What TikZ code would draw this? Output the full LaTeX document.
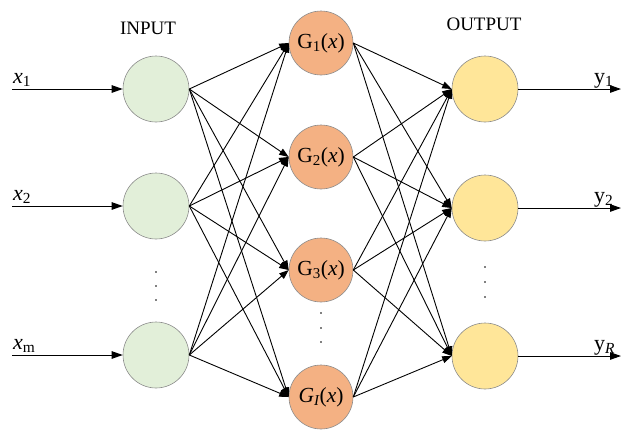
\documentclass[tikz,border=0pt]{standalone}
\usepackage{fontspec}
\setmainfont{Liberation Serif}
\usetikzlibrary{arrows.meta}
\definecolor{inC}{HTML}{E2EFD9}
\definecolor{hidC}{HTML}{F4B183}
\definecolor{outC}{HTML}{FFE699}
\definecolor{edgeC}{HTML}{8C8C8C}
\begin{document}
\begin{tikzpicture}[x=1pt,y=-1pt,
  neuron/.style={circle,draw=edgeC,line width=0.6pt,minimum size=66pt,inner sep=0pt},
  innode/.style={neuron,fill=inC},
  hidnode/.style={neuron,fill=hidC,minimum size=64pt,font=\fontsize{21.5}{23}\selectfont},
  outnode/.style={neuron,fill=outC},
  link/.style={-{Triangle[length=9.5pt,width=7pt]},line width=0.9pt},
  io/.style={-{Triangle[length=11pt,width=7.5pt]},line width=1pt},
  lbl/.style={font=\fontsize{22}{24}\selectfont,inner sep=0pt,anchor=base west},
  ttl/.style={font=\fontsize{19}{21}\selectfont},
  dot/.style={circle,fill=black,inner sep=0pt,minimum size=1.8pt}]
\useasboundingbox (0,0) rectangle (621,429);
% title labels
\node[ttl] (tin) at (148,28) {INPUT};
\node[ttl] (tout) at (484,24) {OUTPUT};
% input nodes
\node[innode] (i1) at (156,89) {};
\node[innode] (i2) at (156,206) {};
\node[innode] (i3) at (156,355) {};
% hidden nodes
\node[hidnode] (h1) at (321,43) {G\textsubscript{1}(\textit{x})};
\node[hidnode] (h2) at (321,157) {G\textsubscript{2}(\textit{x})};
\node[hidnode] (h3) at (321,270) {G\textsubscript{3}(\textit{x})};
\node[hidnode] (h4) at (321,397) {\textit{G\textsubscript{I}}(\textit{x})};
% output nodes
\node[outnode] (o1) at (485,89) {};
\node[outnode] (o2) at (485,208) {};
\node[outnode] (o3) at (485,356) {};
% dots
\node[dot] (di1) at (156,272) {};
\node[dot] (di2) at (156,286) {};
\node[dot] (di3) at (156,300) {};
\node[dot] (dh1) at (321,313) {};
\node[dot] (dh2) at (321,328) {};
\node[dot] (dh3) at (321,342) {};
\node[dot] (do1) at (485,267) {};
\node[dot] (do2) at (485,282) {};
\node[dot] (do3) at (485,297) {};
% input arrows
\coordinate (s1) at (12,89);
\coordinate (s2) at (12,206);
\coordinate (s3) at (12,355);
\draw[io] (s1) -- (i1.west);
\draw[io] (s2) -- (i2.west);
\draw[io] (s3) -- (i3.west);
\node[lbl] (lx1) at (13,83) {\textit{x}\textsubscript{1}};
\node[lbl] (lx2) at (13,200) {\textit{x}\textsubscript{2}};
\node[lbl] (lx3) at (13,349) {\textit{x}\textsubscript{m}};
% output arrows
\coordinate (e1) at (621,89);
\coordinate (e2) at (621,208);
\coordinate (e3) at (621,356);
\draw[io] (o1.east) -- (e1);
\draw[io] (o2.east) -- (e2);
\draw[io] (o3.east) -- (e3);
\node[lbl] (ly1) at (594,83) {y\textsubscript{1}};
\node[lbl] (ly2) at (594,202) {y\textsubscript{2}};
\node[lbl] (ly3) at (594,350) {y\textsubscript{\textit{R}}};
% connections
\foreach \a in {i1,i2,i3}
  \foreach \b in {h1,h2,h3,h4}
    \draw[link] (\a.east) -- (\b.west);
\foreach \a in {h1,h2,h3,h4}
  \foreach \b in {o1,o2,o3}
    \draw[link] (\a.east) -- (\b.west);
\end{tikzpicture}
\end{document}
